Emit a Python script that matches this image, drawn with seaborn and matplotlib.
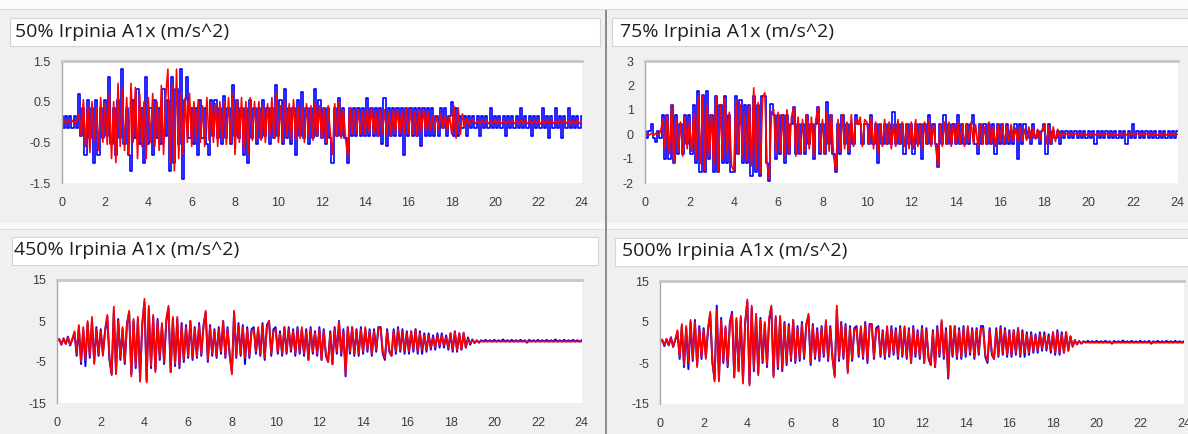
import numpy as np
import matplotlib
matplotlib.use("Agg")
import matplotlib.pyplot as plt
import seaborn as sns
from matplotlib.patches import Rectangle

# ---------------- data (sampled every 0.1 s, 0 .. 24 s) ----------------
DT = 0.1
titles = ["50% Irpinia A1x (m/s^2)", "75% Irpinia A1x (m/s^2)",
          "450% Irpinia A1x (m/s^2)", "500% Irpinia A1x (m/s^2)"]
x_ticks = list(range(0, 25, 2))

blue_50 = [
    0.15, -0.15, 0.15, -0.15, 0.15, -0.15, 0.15, -0.15, 0.7, -0.35,
    0.35, -0.8, 0.55, -0.4, 0.35, -1.0, 0.55, -0.8, 0.35, -0.4,
    0.55, -0.35, 1.1, -0.55, 0.35, -0.8, 0.55, -0.4, 1.3, -0.55,
    0.35, -0.8, -1.2, 0.55, -0.4, 0.8, -0.55, 0.35, -1.0, 1.1,
    -0.55, 0.35, -0.8, 0.55, -0.4, 0.35, -0.55, 0.8, -0.35, 0.55,
    -1.2, 1.1, -1.0, 0.8, -0.55, 1.3, -1.4, 0.55, 1.1, -0.4,
    0.35, -0.55, 0.35, -0.8, 0.55, -0.4, 0.35, -0.55, -0.8, 0.55,
    -0.35, 0.55, -0.4, 0.35, -0.55, 0.65, -0.4, 0.35, -0.55, 0.9,
    -0.35, 0.55, -0.4, 0.35, -0.8, 0.35, -1.0, 0.55, -0.4, 0.35,
    -0.55, 0.35, -0.4, 0.55, -0.35, 0.35, -0.55, 0.35, -0.4, 0.9,
    -0.35, 0.55, -0.55, 0.8, -0.4, 0.35, -0.55, 0.35, -0.8, 0.55,
    -0.35, 0.75, -0.4, 0.35, -0.55, 0.35, -0.4, 0.8, -0.35, 0.55,
    -0.4, 0.35, -0.55, 0.35, -0.4, -1.0, 0.35, -0.35, 0.6, -0.35,
    0.35, -0.4, -1.0, 0.35, -0.35, 0.35, -0.35, 0.35, -0.35, 0.35,
    -0.35, 0.6, -0.35, 0.35, -0.35, 0.35, -0.35, 0.35, -0.55, 0.6,
    -0.6, 0.35, -0.35, 0.35, -0.35, 0.35, -0.35, 0.35, -0.8, 0.35,
    -0.35, 0.35, -0.35, 0.35, -0.35, 0.35, -0.6, 0.35, -0.35, 0.35,
    -0.35, 0.35, -0.35, 0.15, -0.35, 0.35, -0.15, 0.35, -0.35, 0.15,
    0.5, -0.35, 0.35, -0.35, 0.15, -0.15, 0.15, -0.35, 0.15, -0.15,
    0.15, -0.15, 0.15, -0.35, 0.15, -0.15, 0.15, -0.15, 0.35, -0.15,
    0.15, -0.15, 0.15, -0.15, 0.15, -0.35, 0.15, -0.15, 0.15, -0.15,
    0.15, -0.15, 0.35, -0.15, 0.15, -0.15, 0.15, -0.35, 0.15, -0.15,
    0.15, -0.15, 0.35, -0.15, 0.15, -0.4, 0.15, -0.15, 0.35, -0.15,
    0.15, -0.4, 0.15, -0.15, 0.35, -0.15, 0.15, -0.15, 0.15, -0.15,
    0.15]

red_50 = [
    0.0, 0.03, -0.04, 0.05, -0.03, 0.04, -0.05, 0.03, 0.2, -0.35,
    0.55, -0.6, 0.4, -0.75, 0.5, -0.45, 0.35, -0.7, 0.6, -0.5,
    0.45, -0.55, 0.7, -0.9, 0.5, -1.0, 0.95, -0.6, 0.8, -0.7,
    0.6, -0.8, 0.95, -0.5, 0.85, -0.9, 0.7, -0.6, 0.5, -0.9,
    0.6, -0.5, 0.7, -0.6, 0.5, -0.7, 0.9, -0.8, 0.6, 1.3,
    -1.0, 0.9, -1.2, 1.3, -0.9, 0.7, -0.8, 0.6, -0.5, 0.7,
    -0.6, 0.5, -0.4, 0.55, -0.5, 0.4, -0.6, 0.6, -0.45, 0.5,
    -0.5, 0.45, -0.6, 0.5, -0.4, 0.5, -0.55, 0.6, -0.5, 0.7,
    -0.8, 0.55, -0.5, 0.6, -0.7, 0.5, -0.8, 0.6, -0.45, 0.5,
    -0.4, 0.5, -0.45, 0.4, -0.5, 0.45, -0.35, 0.6, -0.4, 0.7,
    -0.5, 0.4, -0.45, 0.5, -0.35, 0.45, -0.4, 0.55, -0.45, 0.4,
    -0.4, 0.35, -0.5, 0.45, -0.3, 0.4, -0.45, 0.5, -0.35, 0.4,
    -0.4, 0.35, -0.5, 0.4, -0.3, -0.8, 0.45, -0.35, 0.5, -0.4,
    0.3, -0.4, -0.85, 0.35, -0.3, 0.3, -0.25, 0.3, -0.3, 0.25,
    -0.3, 0.3, -0.25, 0.35, -0.3, 0.25, -0.35, 0.3, -0.25, 0.3,
    -0.3, 0.25, -0.35, 0.3, -0.25, 0.3, -0.3, 0.25, -0.3, 0.35,
    -0.25, 0.3, -0.3, 0.25, -0.35, 0.3, -0.25, 0.3, -0.2, 0.25,
    -0.2, 0.15, -0.2, 0.15, -0.15, 0.2, -0.15, 0.15, -0.2, 0.15,
    -0.3, 0.4, -0.4, 0.35, -0.3, 0.2, -0.1, 0.08, -0.06, 0.05,
    0.04, -0.04, 0.03, -0.05, 0.04, -0.03, 0.05, -0.04, 0.03, -0.04,
    0.05, -0.03, 0.04, -0.04, 0.03, -0.05, 0.04, -0.03, 0.04, -0.04,
    0.03, -0.04, 0.05, -0.03, 0.04, -0.04, 0.03, -0.05, 0.04, -0.03,
    0.04, -0.05, 0.03, -0.04, 0.05, -0.03, 0.04, -0.04, 0.03, -0.04,
    0.05, -0.04, 0.03, -0.03, 0.04, -0.05, 0.03, -0.04, 0.04, -0.03,
    0.0]

blue_75 = [
    0.15, -0.15, 0.15, 0.4, -0.15, -0.3, 0.15, -0.15, 0.8, -1.0,
    0.8, -1.0, 1.2, -1.2, 0.8, -0.8, 0.4, -0.8, 0.8, -0.4,
    0.8, -0.8, 1.2, -1.2, 1.75, -1.55, 1.6, -1.55, 1.75, -1.0,
    0.8, -1.55, 1.55, -1.55, 1.2, -1.2, 1.55, -1.2, 0.8, -1.55,
    -1.55, 1.55, -0.8, 1.4, -1.2, 1.2, -1.2, 1.2, -1.7, 1.55,
    -1.55, 1.2, -1.7, 1.55, 1.55, -1.2, -1.9, 1.25, 0.8, -1.0,
    0.8, -0.8, 0.8, -1.2, 0.8, -0.8, 0.4, 1.1, -0.8, 0.4,
    -0.8, 0.4, -0.8, 0.8, -0.4, 0.4, -1.0, 0.4, 1.1, -0.8,
    0.4, -0.8, 1.3, -0.4, 0.8, -0.8, -1.55, 0.4, -0.8, 0.8,
    -0.4, 0.4, -0.8, 0.4, -0.4, 0.8, 0.4, 0.4, -0.4, 0.4,
    0.4, -0.4, 0.8, -0.4, 0.4, -1.2, 0.4, -0.4, 0.4, -0.4,
    0.4, -0.4, 0.9, -0.4, 0.4, -0.4, 0.4, -0.8, 0.4, -0.4,
    0.4, -0.8, 0.4, -0.4, 0.4, -1.0, 0.4, -0.4, 0.8, -0.4,
    0.4, -0.4, -1.35, 0.4, -0.4, 0.8, -0.4, 0.4, -0.4, 0.4,
    -0.4, 0.8, -0.4, 0.4, -0.4, 0.4, -0.4, 0.4, 0.8, -0.4,
    -0.8, 0.4, -0.4, 0.4, -0.4, 0.4, -0.4, 0.4, -0.8, 0.4,
    -0.4, 0.4, -0.4, 0.4, -0.4, 0.15, -0.4, 0.4, -1.0, 0.4,
    -0.4, 0.4, -0.15, 0.15, -0.4, 0.4, -0.15, 0.15, -0.4, 0.15,
    0.4, -0.8, 0.4, -0.4, 0.15, -0.15, 0.15, -0.4, 0.15, -0.15,
    0.15, -0.15, 0.15, -0.15, 0.15, -0.15, 0.15, -0.15, 0.15, -0.15,
    0.15, -0.15, 0.15, -0.4, 0.15, -0.15, 0.15, -0.15, 0.15, -0.15,
    0.15, -0.15, 0.15, -0.15, 0.15, -0.15, 0.15, -0.4, 0.15, -0.15,
    0.4, -0.15, 0.15, -0.15, 0.15, -0.15, 0.15, -0.15, 0.15, -0.15,
    0.15, -0.15, 0.15, -0.15, 0.15, -0.15, 0.15, -0.15, 0.15, -0.15,
    0.15]

red_75 = [
    0.0, 0.03, -0.03, 0.04, -0.04, 0.05, -0.03, 0.1, 0.6, -0.6,
    0.75, -0.8, 1.2, -1.2, 0.6, -0.7, 0.5, -0.9, 0.7, -0.6,
    0.5, -0.7, 0.8, -1.0, 1.5, -1.2, 1.6, -1.5, 1.2, -0.9,
    0.8, -1.3, 1.55, -1.55, 1.2, -1.0, 1.5, -0.8, 0.9, -1.3,
    -1.5, 1.4, -0.8, 1.2, -0.9, 0.8, -1.1, 1.2, -1.3, 1.9,
    -1.4, 1.3, -1.6, 1.5, 1.7, -1.2, -1.85, 0.9, 1.0, -0.8,
    0.9, -0.7, 0.8, -0.9, 1.0, -0.8, 0.7, 1.1, -0.9, 0.7,
    -0.8, 0.6, -0.7, 0.8, -0.6, 0.7, -0.9, 0.6, 1.1, -0.7,
    0.6, -0.8, 0.9, -0.7, 0.8, -0.9, -1.5, 0.6, -0.7, 0.8,
    -0.6, 0.5, -0.7, 0.8, -0.5, 0.6, 0.4, 0.7, -0.5, 0.6,
    0.5, -0.4, 0.7, -0.6, 0.5, -0.8, 0.4, -0.5, 0.6, -0.4,
    0.5, -0.6, 0.4, -0.5, 0.6, -0.4, 0.5, -0.5, 0.4, -0.6,
    0.5, -0.6, 0.6, -0.5, 0.4, -0.6, 0.5, -0.4, 0.6, -0.5,
    0.4, -0.5, -1.3, 0.4, -0.5, 0.5, -0.4, 0.5, -0.5, 0.4,
    -0.4, 0.5, -0.4, 0.4, -0.5, 0.4, -0.3, 0.5, -0.4, 0.4,
    -0.5, 0.4, -0.4, 0.3, -0.4, 0.5, -0.4, 0.3, -0.5, 0.4,
    -0.3, 0.4, -0.4, 0.3, -0.3, 0.4, -0.3, 0.25, -0.3, 0.3,
    -0.25, 0.2, -0.25, 0.3, -0.2, 0.25, -0.2, 0.2, -0.25, 0.2,
    0.4, -0.4, 0.35, -0.4, 0.3, -0.3, 0.2, -0.1, 0.05, -0.04,
    0.03, -0.03, 0.04, -0.03, 0.03, -0.04, 0.03, -0.03, 0.04, -0.03,
    0.03, -0.04, 0.03, -0.03, 0.04, -0.03, 0.03, -0.04, 0.03, -0.03,
    0.04, -0.03, 0.03, -0.04, 0.03, -0.03, 0.04, -0.03, 0.03, -0.04,
    0.03, -0.03, 0.04, -0.03, 0.03, -0.04, 0.03, -0.03, 0.04, -0.03,
    0.03, -0.04, 0.03, -0.03, 0.04, -0.03, 0.03, -0.04, 0.03, -0.03,
    0.0]

blue_450 = [
    0.3, 0.6, -0.8, 0.7, -0.6, 1.2, -1.0, 0.5, 2.0, -3.5,
    3.5, -5.5, 3.0, -6.0, 4.5, -4.0, 5.0, -5.0, 3.5, -3.5,
    3.0, -3.0, 2.5, 6.0, -4.5, -8.0, 7.5, -7.5, 5.5, -4.5,
    3.0, -5.5, 4.5, 7.0, -8.0, 5.0, -6.5, 5.5, -9.0, 4.5,
    9.5, -9.5, 8.0, -6.5, 6.0, -7.0, 5.5, -4.5, 4.0, -5.5,
    5.0, 8.0, -7.5, 5.5, -6.0, 5.5, -6.5, 4.5, -5.0, 4.0,
    -4.0, 5.0, -4.5, 3.5, -4.0, 4.5, -3.5, 4.0, 7.0, -5.0,
    4.0, -3.5, 3.0, -4.0, 3.5, -3.0, 5.0, -4.0, 3.5, -3.5,
    -7.5, 7.0, -4.0, 4.5, -3.5, 4.0, -5.5, 3.5, -4.0, 3.0,
    3.5, -3.0, 3.0, -3.5, 4.5, -4.5, 4.0, 5.0, -3.5, 3.0,
    3.5, -3.0, 2.5, -3.5, 3.5, -3.0, 3.5, -2.5, 3.0, -3.5,
    3.5, -3.0, 3.0, -3.5, 3.0, -4.5, 3.5, -3.0, 2.5, -3.5,
    3.5, -4.5, 3.0, -3.5, -5.0, 2.5, -5.5, 3.5, -3.0, 5.0,
    -3.5, 3.0, -8.5, 3.5, -3.0, 3.5, -3.5, 3.0, -3.5, 3.5,
    -3.0, 3.0, -2.5, 3.0, -3.5, 3.0, -2.5, 3.5, 3.5, -3.0,
    -4.5, 3.0, -2.5, -3.5, 3.0, -3.0, 3.5, -2.5, 3.0, -3.0,
    2.5, -3.0, 2.5, -2.5, 3.0, -3.0, 2.5, -3.0, 2.0, -2.5,
    2.0, -2.0, 1.5, -2.0, 2.0, -1.5, 2.0, -1.5, 1.5, -2.0,
    2.0, -2.5, 2.5, -2.5, 2.0, -2.0, 2.0, -1.5, 1.0, -0.8,
    0.5, -0.4, 0.3, -0.3, 0.3, 0.0, 0.4, 0.0, 0.3, 0.0,
    0.4, 0.0, 0.3, 0.0, 0.5, 0.0, 0.3, 0.0, 0.4, 0.0,
    0.3, 0.0, 0.4, 0.0, 0.3, -0.3, 0.4, 0.0, 0.3, 0.0,
    0.4, 0.0, 0.3, 0.0, 0.4, 0.0, 0.3, 0.0, 0.5, 0.0,
    0.3, 0.0, 0.4, 0.0, 0.3, 0.0, 0.4, 0.0, 0.3, 0.0,
    0.3]

red_450 = [
    0.0, 0.5, -0.6, 0.8, -0.5, 1.0, -0.8, 0.6, 2.5, -3.0,
    4.0, -5.0, 3.5, -4.5, 5.0, -3.5, 6.0, -5.5, 3.0, -3.0,
    2.5, -3.5, 3.0, 6.5, -4.0, -8.2, 8.5, -8.0, 5.0, -4.0,
    3.5, -5.0, 4.0, 7.5, -8.5, 5.5, -6.0, 6.0, -9.8, 4.0,
    10.4, -10.0, 8.7, -6.0, 6.5, -7.5, 5.0, -4.0, 4.5, -5.0,
    5.5, 8.7, -7.5, 6.0, -5.5, 6.0, -6.0, 4.0, -4.5, 3.5,
    -3.5, 5.0, -4.0, 3.0, -3.5, 4.0, -3.0, 3.5, 7.5, -4.5,
    3.5, -3.0, 2.5, -3.5, 3.0, -2.5, 5.0, -3.5, 3.0, -3.0,
    -8.0, 7.5, -3.5, 4.0, -3.0, 3.5, -4.0, 3.0, -3.5, 2.5,
    3.0, -2.5, 3.5, -3.0, 4.0, -4.0, 3.5, 5.0, -3.0, 2.5,
    3.0, -2.5, 2.0, -3.0, 3.5, -2.5, 3.0, -2.0, 2.5, -3.0,
    3.0, -2.5, 3.5, -3.0, 2.5, -4.5, 3.0, -2.5, 2.0, -3.0,
    3.0, -4.5, 2.5, -3.0, -5.0, 2.0, -5.6, 3.0, -2.5, 4.8,
    -3.0, 2.5, -8.0, 3.5, -2.5, 3.5, -3.0, 2.5, -3.0, 3.0,
    -2.5, 3.5, -2.0, 2.5, -3.0, 2.5, -2.0, 3.0, 3.5, -2.5,
    -4.0, 2.5, -2.0, -3.5, 2.5, -2.5, 3.0, -2.0, 2.5, -2.5,
    2.0, -2.5, 2.5, -2.0, 3.0, -2.5, 2.0, -2.0, 1.5, -2.0,
    1.5, -1.5, 1.0, -1.5, 1.5, -1.0, 1.5, -1.0, 1.0, -1.5,
    2.0, -2.0, 2.4, -2.1, 2.0, -2.0, 2.2, -1.5, 0.6, -0.5,
    0.4, -0.3, 0.2, -0.1, 0.05, 0.0, 0.0, 0.0, 0.0, 0.0,
    0.0, 0.0, 0.0, 0.0, 0.0, 0.0, 0.0, 0.0, 0.0, 0.0,
    0.0, 0.0, 0.0, 0.0, 0.0, 0.0, 0.0, 0.0, 0.0, 0.0,
    0.0, 0.0, 0.0, 0.0, 0.0, 0.0, 0.0, 0.0, 0.0, 0.0,
    0.0, 0.0, 0.0, 0.0, 0.0, 0.0, 0.0, 0.0, 0.0, 0.0,
    0.0]

blue_500 = [
    0.3, 0.7, -0.9, 0.8, -0.7, 1.3, -1.1, 0.6, 2.5, -4.0,
    4.0, -6.0, 3.5, -6.5, 5.0, -4.5, 5.5, -5.5, 4.0, -4.0,
    3.5, -3.5, 3.0, 7.0, -5.0, -9.0, 9.0, -9.0, 6.0, -5.0,
    3.5, -6.0, 5.0, 7.5, -8.5, 5.5, -7.0, 6.0, -9.5, 5.0,
    10.0, -10.0, 8.5, -7.0, 6.5, -7.5, 6.0, -5.0, 4.5, -6.0,
    5.5, 8.5, -8.0, 6.0, -6.5, 6.0, -7.0, 5.0, -5.5, 4.5,
    -4.5, 5.5, -5.0, 4.0, -4.5, 5.0, -4.0, 4.5, 6.5, -5.5,
    4.5, -4.0, 3.5, -4.5, 4.0, -3.5, 5.0, -4.5, 4.0, -4.0,
    -8.0, 8.0, -4.5, 5.0, -4.0, 4.5, -7.0, 4.0, -4.5, 3.5,
    4.0, -3.5, 3.5, -4.0, 5.0, -5.0, 4.5, 4.5, -4.0, 3.5,
    4.0, -3.5, 3.0, -4.0, 3.5, -3.5, 4.0, -3.0, 3.5, -4.0,
    4.0, -3.5, 3.5, -4.0, 3.5, -5.0, 4.0, -3.5, 3.0, -4.0,
    4.0, -5.0, 3.5, -4.0, -5.5, 3.0, -6.0, 4.0, -3.5, 5.0,
    -4.0, 3.5, -8.8, 4.0, -3.5, 4.0, -4.0, 3.5, -4.0, 4.0,
    -3.5, 3.5, -3.0, 3.5, -4.0, 3.5, -3.0, 4.0, 4.0, -3.5,
    -5.0, 3.5, -3.0, -4.0, 3.5, -3.5, 4.0, -3.0, 3.5, -3.5,
    3.0, -3.5, 3.0, -3.0, 3.5, -3.5, 3.0, -3.5, 2.5, -3.0,
    2.5, -2.5, 2.0, -2.5, 2.5, -2.0, 2.5, -2.0, 2.0, -2.5,
    2.5, -3.0, 3.0, -3.0, 2.5, -2.5, 2.5, -2.0, 1.5, -1.0,
    0.6, -0.5, 0.4, -0.3, 0.3, 0.0, 0.4, 0.0, 0.3, 0.0,
    0.4, 0.0, 0.3, 0.0, 0.4, 0.0, 0.3, -0.3, 0.4, 0.0,
    0.3, 0.0, 0.5, 0.0, 0.3, 0.0, 0.4, 0.0, 0.3, 0.0,
    0.4, 0.0, 0.3, 0.0, 0.4, -0.3, 0.3, 0.0, 0.4, 0.0,
    0.3, 0.0, 0.4, 0.0, 0.3, 0.0, 0.4, 0.0, 0.3, 0.0,
    0.3]

red_500 = [
    0.0, 0.6, -0.7, 0.9, -0.6, 1.1, -0.9, 0.7, 3.0, -3.5,
    4.5, -5.5, 4.0, -5.0, 5.5, -4.0, 5.0, -6.0, 3.5, -3.5,
    3.0, -4.0, 3.5, 7.5, -4.5, -9.5, 8.0, -9.5, 5.5, -4.5,
    4.0, -5.5, 4.5, 7.0, -8.5, 6.0, -7.0, 6.5, -10.0, 4.5,
    10.5, -10.5, 9.0, -6.5, 7.0, -8.0, 5.5, -4.5, 5.0, -5.5,
    6.0, 9.0, -8.5, 6.5, -6.0, 6.5, -6.5, 4.5, -5.0, 4.0,
    -4.0, 5.5, -4.5, 3.5, -4.0, 4.5, -3.5, 4.0, 7.0, -5.0,
    4.0, -3.5, 3.0, -4.0, 3.5, -3.0, 5.5, -4.0, 3.5, -3.5,
    -8.5, 9.0, -4.0, 4.5, -3.5, 4.0, -7.5, 3.5, -4.0, 3.0,
    3.5, -3.0, 4.0, -3.5, 4.5, -4.5, 4.0, 4.5, -3.5, 3.0,
    3.5, -3.0, 2.5, -3.5, 4.0, -3.0, 3.5, -2.5, 3.0, -3.5,
    3.5, -3.0, 4.0, -3.5, 3.0, -5.0, 3.5, -3.0, 2.5, -3.5,
    3.5, -5.0, 3.0, -3.5, -5.5, 2.5, -6.0, 3.5, -3.0, 5.5,
    -3.5, 3.0, -8.5, 4.0, -3.0, 4.0, -3.5, 3.0, -3.5, 3.5,
    -3.0, 4.0, -2.5, 3.0, -3.5, 3.0, -2.5, 3.5, 3.5, -3.0,
    -4.5, 3.0, -2.5, -4.0, 3.0, -3.0, 3.5, -2.5, 3.0, -3.0,
    2.5, -3.0, 3.0, -2.5, 3.5, -3.0, 2.5, -2.5, 2.0, -2.5,
    2.0, -2.0, 1.5, -2.0, 2.0, -1.5, 2.0, -1.5, 1.5, -2.0,
    2.5, -2.5, 2.5, -2.5, 2.0, -2.5, 2.5, -2.0, 1.5, -1.0,
    0.5, -0.4, 0.3, -0.2, 0.1, 0.05, 0.0, 0.0, 0.0, 0.0,
    0.0, 0.0, 0.0, 0.0, 0.0, 0.0, 0.0, 0.0, 0.0, 0.0,
    0.0, 0.0, 0.0, 0.0, 0.0, 0.0, 0.0, 0.0, 0.0, 0.0,
    0.0, 0.0, 0.0, 0.0, 0.0, 0.0, 0.0, 0.0, 0.0, 0.0,
    0.0, 0.0, 0.0, 0.0, 0.0, 0.0, 0.0, 0.0, 0.0, 0.0,
    0.0]

# ---------------- layout ----------------
W, H = 1188, 434
BLUE, RED = "#0000ff", "#ff0000"
sns.set_style("white")
plt.rcParams["font.family"] = ["Liberation Sans", "DejaVu Sans"]

fig = plt.figure(figsize=(W / 100, H / 100), dpi=100, facecolor="#f0f0f0")


def frect(x0, y0, x1, y1):
    return (x0 / W, 1 - y1 / H), (x1 - x0) / W, (y1 - y0) / H


def box(x0, y0, x1, y1, fc, ec="none", lw=0.0, z=0):
    xy, w, h = frect(x0, y0, x1, y1)
    fig.patches.append(Rectangle(xy, w, h, transform=fig.transFigure,
                                 facecolor=fc, edgecolor=ec, linewidth=lw, zorder=z))


# window chrome
box(0, 0, W, 9, "#fbfbfb")
box(0, 9, W, 10, "#d9dee6")
box(0, 223, W, 229, "#f7f8fa")
box(0, 229, W, 230, "#d9dee6")
box(605, 10, 607.5, H, "#8c8c8c")

panels = [
    dict(rect=(61.7, 61, 581.7, 183), ylim=(-1.5, 1.5),
         yt=[-1.5, -1.0, -0.5, 0.0, 0.5, 1.0, 1.5],
         yl=["-1.5", "", "-0.5", "", "0.5", "", "1.5"],
         tbox=(10, 18, 600, 46), tpos=(15, 32), blue=blue_50, red=red_50, step=True),
    dict(rect=(645, 61, 1177.5, 183), ylim=(-2, 3),
         yt=[-2, -1, 0, 1, 2, 3], yl=["-2", "-1", "0", "1", "2", "3"],
         tbox=(612, 18, 1190, 46), tpos=(620, 32), blue=blue_75, red=red_75, step=True),
    dict(rect=(57, 280, 581.7, 403), ylim=(-15, 15),
         yt=[-15, -10, -5, 0, 5, 10, 15], yl=["-15", "", "-5", "", "5", "", "15"],
         tbox=(12, 237, 598, 265), tpos=(14, 250), blue=blue_450, red=red_450, step=False),
    dict(rect=(660, 281, 1184, 404), ylim=(-15, 15),
         yt=[-15, -10, -5, 0, 5, 10, 15], yl=["-15", "", "-5", "", "5", "", "15"],
         tbox=(615, 238, 1190, 266), tpos=(622, 251), blue=blue_500, red=red_500, step=False),
]

for p, title in zip(panels, titles):
    x0, y0, x1, y1 = p["tbox"]
    box(x0, y0, x1, y1, "white", ec="#d4d4d4", lw=0.8, z=1)
    fig.text(p["tpos"][0] / W, 1 - p["tpos"][1] / H, title, fontsize=14,
             family=["Open Sans", "DejaVu Sans"], color="#1e1e1e",
             ha="left", va="center", zorder=3)

    xy, w, h = frect(*p["rect"])
    ax = fig.add_axes([xy[0], xy[1], w, h])
    ax.set_facecolor("white")

    tb = np.arange(len(p["blue"])) * DT
    tr = np.arange(len(p["red"])) * DT
    if p["step"]:
        sns.lineplot(x=tb, y=np.array(p["blue"]), ax=ax, color=BLUE, lw=1.2,
                     drawstyle="steps-mid", estimator=None, sort=False)
        sns.lineplot(x=tr, y=np.array(p["red"]), ax=ax, color=RED, lw=1.2,
                     estimator=None, sort=False)
    else:
        sns.lineplot(x=tb, y=np.array(p["blue"]), ax=ax, color=BLUE, lw=1.4,
                     estimator=None, sort=False)
        sns.lineplot(x=tr, y=np.array(p["red"]), ax=ax, color=RED, lw=1.3,
                     estimator=None, sort=False)

    ax.set_xlim(0, 24)
    ax.set_ylim(*p["ylim"])
    ax.set_xticks(x_ticks)
    ax.set_xticklabels([str(v) for v in x_ticks])
    ax.set_yticks(p["yt"])
    ax.set_yticklabels(p["yl"])
    ax.set_xlabel("")
    ax.set_ylabel("")
    for s in ("right", "bottom"):
        ax.spines[s].set_visible(False)
    ax.spines["top"].set_color("#c6c6c6")
    ax.spines["top"].set_linewidth(2.0)
    ax.spines["left"].set_color("#a8a8a8")
    ax.spines["left"].set_linewidth(1.0)
    ax.tick_params(axis="both", direction="out", length=4, width=1,
                   color="#8a8a8a", labelsize=9, labelcolor="#3c3c3c", pad=4)
    ax.tick_params(axis="x", pad=6)
    ax.grid(False)

fig.savefig("out.png", dpi=100, facecolor=fig.get_facecolor())
